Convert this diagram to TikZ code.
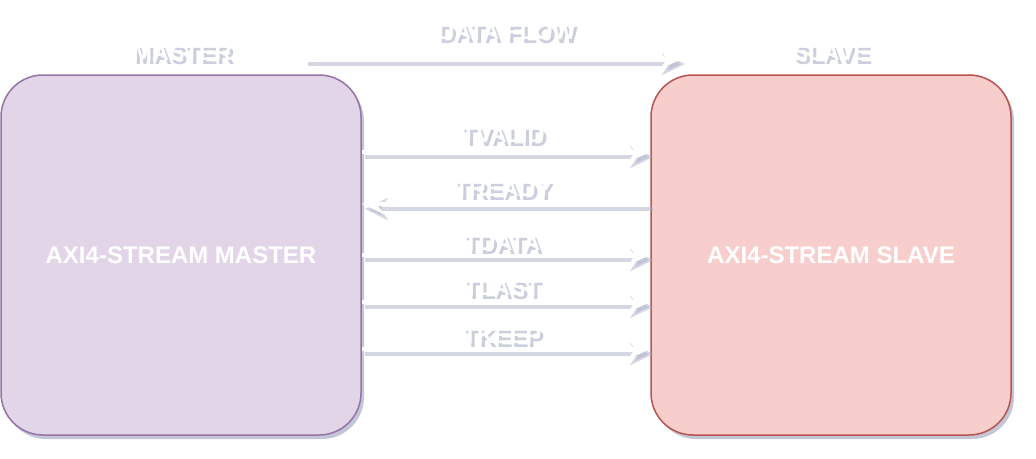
\documentclass[tikz,border=0pt]{standalone}
\usepackage{fontspec}
\setmainfont{Liberation Sans}
\usetikzlibrary{arrows.meta,shadows}

\definecolor{masterfill}{HTML}{E1D5E7}
\definecolor{masterline}{HTML}{9673A6}
\definecolor{slavefill}{HTML}{F8CECC}
\definecolor{slaveline}{HTML}{B85450}
\definecolor{shadowgrey}{HTML}{A9AEC6}

\tikzset{
  block/.style={rounded corners=42pt, minimum width=360pt, minimum height=360pt,
    line width=1.5pt, text=white, font=\bfseries\fontsize{24}{28}\selectfont,
    drop shadow={shadow xshift=3pt, shadow yshift=-4pt, fill=shadowgrey, opacity=.7}},
  sig/.style={draw=white, line width=3.5pt, -{Stealth[length=22pt,width=20pt,inset=7pt]}},
  sigshadow/.style={draw=shadowgrey, line width=4.5pt, opacity=.5,
    -{Stealth[length=23pt,width=22pt,inset=7pt]},
    transform canvas={shift={(3pt,-5pt)}}},
  lbl/.style={text=white, inner sep=0pt, font=\bfseries\fontsize{23.5}{28}\selectfont},
  lblshadow/.style={lbl, text=shadowgrey, opacity=.6, xshift=3pt, yshift=-4pt}
}

\begin{document}
\begin{tikzpicture}[x=1pt,y=-1pt]
    \useasboundingbox (0,0) rectangle (1036,458);

    % the two blocks
    \node [block, draw=masterline, fill=masterfill] (master) at (181,255) {AXI4-STREAM MASTER};
    \node [block, draw=slaveline, fill=slavefill] (slave) at (831,255) {AXI4-STREAM SLAVE};

    % titles
    \node [lblshadow] (mastertitle-sh) at (182,52) {MASTER};
    \node [lbl] (mastertitle) at (182,52) {MASTER};
    \node [lblshadow] (slavetitle-sh) at (831,52) {SLAVE};
    \node [lbl] (slavetitle) at (831,52) {SLAVE};
    \node [lblshadow] (flow-sh) at (506,31) {DATA FLOW};
    \node [lbl] (flow) at (506,31) {DATA FLOW};

    \coordinate (flowstart) at (305,59);
    \coordinate (flowend) at (682,59);
    \draw [sigshadow] (flowstart) -- (flowend);
    \draw [sig] (flowstart) -- (flowend);

    % signals
    \draw [sigshadow] (master.east |- 0,152) -- (slave.west |- 0,152);
    \draw [sig] (master.east |- 0,152) -- (slave.west |- 0,152);
    \draw [sigshadow] (slave.west |- 0,204) -- (master.east |- 0,204);
    \draw [sig] (slave.west |- 0,204) -- (master.east |- 0,204);
    \draw [sigshadow] (master.east |- 0,255) -- (slave.west |- 0,255);
    \draw [sig] (master.east |- 0,255) -- (slave.west |- 0,255);
    \draw [sigshadow] (master.east |- 0,302) -- (slave.west |- 0,302);
    \draw [sig] (master.east |- 0,302) -- (slave.west |- 0,302);
    \draw [sigshadow] (master.east |- 0,349) -- (slave.west |- 0,349);
    \draw [sig] (master.east |- 0,349) -- (slave.west |- 0,349);

    \node [lblshadow] (tvalid-sh) at (503,134) {TVALID};
    \node [lbl] (tvalid) at (503,134) {TVALID};
    \node [lblshadow] (tready-sh) at (503,188) {TREADY};
    \node [lbl] (tready) at (503,188) {TREADY};
    \node [lblshadow] (tdata-sh) at (502,242) {TDATA};
    \node [lbl] (tdata) at (502,242) {TDATA};
    \node [lblshadow] (tlast-sh) at (502,287) {TLAST};
    \node [lbl] (tlast) at (502,287) {TLAST};
    \node [lblshadow] (tkeep-sh) at (502,335) {TKEEP};
    \node [lbl] (tkeep) at (502,335) {TKEEP};
\end{tikzpicture}
\end{document}
